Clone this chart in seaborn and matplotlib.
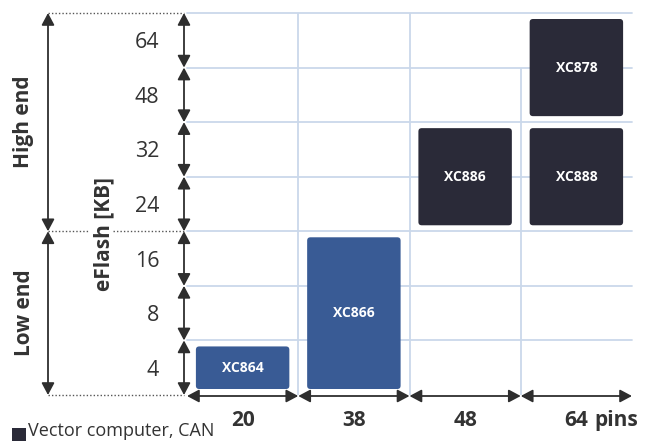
import matplotlib
matplotlib.use("Agg")
import matplotlib.pyplot as plt
import matplotlib.transforms as mtransforms
from matplotlib.patches import FancyBboxPatch, Rectangle
import seaborn as sns
import pandas as pd

# ---------------- data ----------------
chips = ["XC864", "XC866", "XC886", "XC888", "XC878"]
chip_pins = ["20", "38", "48", "64", "64"]
flash_from = ["4", "4", "24", "24", "48"]
flash_to = ["4", "16", "32", "32", "64"]
chip_class = ["Low end", "Low end", "High end", "High end", "High end"]

pin_labels = ["20", "38", "48", "64"]
pin_unit = "pins"
flash_labels = ["4", "8", "16", "24", "32", "48", "64"]
axis_title = "eFlash [KB]"
segments = ["High end", "Low end"]
segment_from = ["24", "4"]
segment_to = ["64", "16"]
legend_label = "Vector computer, CAN"

# ---------------- style ----------------
colors = {"Low end": "#395b95", "High end": "#2a2a38"}
grid_c = "#cad8ea"
arrow_c = "#2e2e2e"
PAD = 0.11

sns.set_theme(style="white")
plt.rcParams["font.family"] = ["Open Sans", "DejaVu Sans"]

W, H = 646, 441
fig = plt.figure(figsize=(W / 100, H / 100), dpi=100)
ax = fig.add_axes([187 / W, 46 / H, 445 / W, 382 / H])

df = pd.DataFrame(dict(chip=chips, pins=chip_pins, lo=flash_from, hi=flash_to, cls=chip_class))
lo_i = df["lo"].map(flash_labels.index)
hi_i = df["hi"].map(flash_labels.index)
df["bottom"] = lo_i - 0.5 + PAD
df["height"] = hi_i - lo_i + 1 - 2 * PAD

for _, r in df.iterrows():
    sns.barplot(x=[r.pins], y=[r.height], order=pin_labels, bottom=r.bottom,
                width=0.84, color=colors[r.cls], saturation=1, errorbar=None,
                linewidth=0, ax=ax, zorder=3)

# round the corners of the bars seaborn drew, and label them
bars = list(ax.patches)
for p, name in zip(bars, df["chip"]):
    x0, y0, w, h = p.get_x(), p.get_y(), p.get_width(), p.get_height()
    fc = p.get_facecolor()
    p.remove()
    fb = FancyBboxPatch((x0, y0), w, h, boxstyle="round,pad=0,rounding_size=0.03",
                        mutation_aspect=2.0, facecolor=fc, edgecolor="none", zorder=3)
    ax.add_patch(fb)
    ax.text(x0 + w / 2, y0 + h / 2, name, color="white", fontsize=10,
            fontweight="bold", ha="center", va="center", zorder=4)

ax.set_xlim(-0.5, len(pin_labels) - 0.5)
ax.set_ylim(-0.5, len(flash_labels) - 0.5)

# grid
ax.grid(False)
for yv in [i + 0.5 for i in range(len(flash_labels))]:
    ax.axhline(yv, color=grid_c, lw=1.3, zorder=1, clip_on=False)
for xi in range(len(pin_labels) - 1):
    top = len(flash_labels) - 0.5 if xi < 2 else len(flash_labels) - 1.5
    ax.vlines(xi + 0.5, -0.5, top, color=grid_c, lw=1.3, zorder=1)

for s in ax.spines.values():
    s.set_visible(False)

ax.set_yticks(range(len(flash_labels)))
ax.set_yticklabels(flash_labels, fontsize=15.5, color="#333333")
ax.set_xticks(range(len(pin_labels)))
ax.set_xticklabels(pin_labels, fontsize=15, fontweight="bold", color="#333333")
ax.tick_params(axis="y", length=0, pad=20)
ax.tick_params(axis="x", length=0, pad=11)
ax.set_xlabel("")
ax.set_ylabel("")

xb = mtransforms.blended_transform_factory(ax.transData, ax.transAxes)
yb = mtransforms.blended_transform_factory(ax.transAxes, ax.transData)

ax.annotate(pin_unit, xy=(len(pin_labels) - 1, 0), xycoords=xb,
            xytext=(13, -11), textcoords="offset points", ha="left", va="top",
            fontsize=15, fontweight="bold", color="#333333", annotation_clip=False)

aprops = dict(arrowstyle="<|-|>,head_length=0.6,head_width=0.32", color=arrow_c,
              lw=1.3, shrinkA=0, shrinkB=0)

# row arrows
xa = -3 / 445
for i in range(len(flash_labels)):
    ax.annotate("", xy=(xa, i + 0.5), xytext=(xa, i - 0.5), xycoords=yb,
                textcoords=yb, arrowprops=aprops, annotation_clip=False)
# column arrows
ya = -1 / 382
for j in range(len(pin_labels)):
    ax.annotate("", xy=(j + 0.5, ya), xytext=(j - 0.5, ya), xycoords=xb,
                textcoords=xb, arrowprops=aprops, annotation_clip=False)

# segment arrows and labels
xs = (48 - 187) / 445
xt = (24 - 187) / 445
for seg, a, b in zip(segments, segment_from, segment_to):
    y0 = flash_labels.index(a) - 0.5
    y1 = flash_labels.index(b) + 0.5
    ax.annotate("", xy=(xs, y1), xytext=(xs, y0), xycoords=yb, textcoords=yb,
                arrowprops=aprops, annotation_clip=False)
    ax.text(xt, (y0 + y1) / 2, seg, transform=yb, rotation=90, ha="center",
            va="center", fontsize=15, fontweight="bold", color="#333333")

# dotted guide lines
xd1 = -3 / 445
gap0, gap1 = (88 - 187) / 445, (113 - 187) / 445
bounds = sorted({flash_labels.index(a) - 0.5 for a in segment_from} |
                {flash_labels.index(b) + 0.5 for b in segment_to})
for yv in bounds:
    if abs(yv - 2.5) < 1e-9:
        pieces = [(xs, gap0), (gap1, xd1)]
    else:
        pieces = [(xs, xd1)]
    for a, b in pieces:
        ax.plot([a, b], [yv, yv], transform=yb, ls=(0, (1, 1.5)), color="#555555",
                lw=1.0, clip_on=False)

ax.text((104 - 187) / 445, 2.45, axis_title, transform=yb, rotation=90,
        ha="center", va="center", fontsize=15, fontweight="bold", color="#333333")

# legend at the bottom-left
fig.patches.append(Rectangle((12 / W, 0), 14 / W, 13 / H, transform=fig.transFigure,
                             facecolor=colors["High end"], edgecolor="none"))
fig.text(28 / W, 5 / H, legend_label, ha="left", va="baseline", fontsize=13,
         color="#333333")

fig.savefig("out.png", dpi=100)
